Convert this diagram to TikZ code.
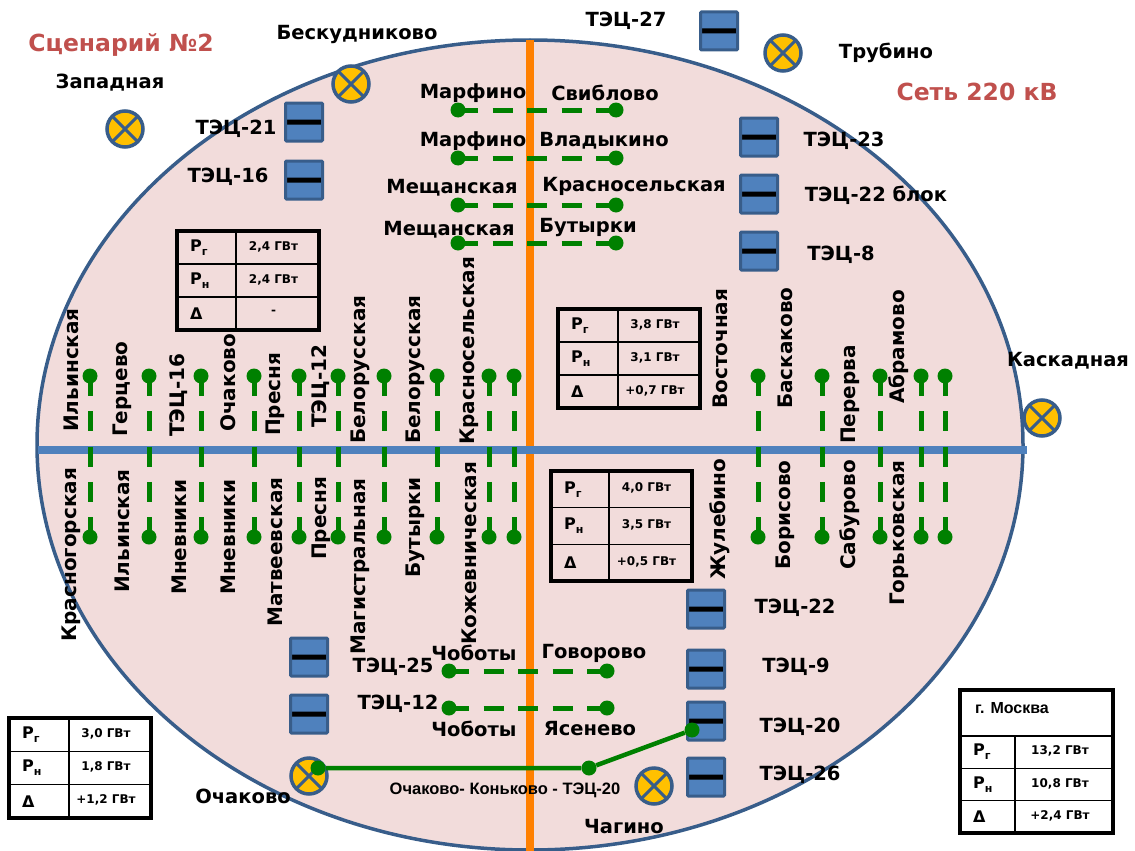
\documentclass[tikz,border=0pt]{standalone}
\usepackage{fontspec}
\setmainfont{DejaVu Sans}
\newfontfamily\tabfont{Liberation Sans}
\usetikzlibrary{positioning,calc}
\definecolor{zone}{HTML}{F2DCDB}
\definecolor{rim}{HTML}{385D8A}
\definecolor{bus}{HTML}{4F81BD}
\definecolor{mid}{HTML}{FF8000}
\definecolor{lampy}{HTML}{FFC000}
\definecolor{head}{HTML}{C0504D}
\definecolor{ln}{HTML}{008000}
\newcommand{\ptable}[9]{
  \draw[line width=1.5pt] (#2+#5,#3)--(#2+#5,#3+3*#6) (#2,#3+#6)--(#2+#4,#3+#6) (#2,#3+2*#6)--(#2+#4,#3+2*#6);
  \node[plbl] (#1a) at (#2+13,#3+.5*#6) {Р\lowsub{г}};
  \node[plbl] (#1b) at (#2+13,#3+1.5*#6) {Р\lowsub{н}};
  \node[plbl] (#1c) at (#2+13,#3+2.5*#6) {Δ};
  \node[vlbl] (#1x) at (#2+#5+.5*#4-.5*#5-4,#3+.5*#6-1) {#7};
  \node[vlbl] (#1y) at (#2+#5+.5*#4-.5*#5-4,#3+1.5*#6-1) {#8};
  \node[vlbl] (#1z) at (#2+#5+.5*#4-.5*#5-4,#3+2.5*#6-1) {#9};
}
\newcommand{\lowsub}[1]{\raisebox{-4pt}{\fontsize{11}{11}\selectfont #1}}

\begin{document}
\begin{tikzpicture}[x=1pt,y=-1pt,
  lbl/.style={font=\bfseries\fontsize{19.5}{21}\selectfont,inner sep=0pt},
  rlbl/.style={font=\bfseries\fontsize{20}{22}\selectfont,inner sep=0pt,rotate=90,anchor=west},
  headlbl/.style={font=\bfseries\fontsize{23.5}{25}\selectfont,text=head,inner sep=0pt},
  plbl/.style={font=\bfseries\fontsize{16}{18}\selectfont,anchor=west,inner sep=0pt},
  vlbl/.style={font=\bfseries\fontsize{12}{14}\selectfont,inner sep=0pt},
  frame/.style={line width=4pt},
  dot/.style={circle,fill=ln,inner sep=0pt,minimum size=15pt},
  feeder/.style={draw=ln,line width=5pt,dash pattern=on 20pt off 15.25pt},
  branch/.style={draw=ln,line width=5pt,dash pattern=on 20pt off 14.5pt},
  tpp/.style={draw=rim,fill=bus,line width=3pt,rounded corners=1pt,minimum width=37pt,minimum height=38pt,inner sep=0pt,
    path picture={\fill[black] ([yshift=2.5pt]path picture bounding box.west) rectangle ([yshift=-2.5pt]path picture bounding box.east);}},
  lamp/.style={circle,draw=rim,fill=lampy,line width=3.5pt,minimum size=36pt,inner sep=0pt,
    path picture={\draw[rim,line width=3pt] (path picture bounding box.north west)--(path picture bounding box.south east)
      (path picture bounding box.north east)--(path picture bounding box.south west);}}]
  \useasboundingbox (0,0) rectangle (1135,851);
  \draw[rim,fill=zone,line width=3.5pt] (530,445) ellipse [x radius=493,y radius=405];
  \draw[mid,line width=8pt] (530,40)--(530,851);
  \draw[bus,line width=8pt] (38,450)--(1027,450);

  \foreach \x [count=\i] in {90,149,201,254,299,338,384,437,489,514,758,822,880,921,945}{
    \node[dot] (t\i) at (\x,376) {};
    \node[dot] (b\i) at (\x,537) {};
    \draw[feeder] (t\i.center)--(b\i.center);
  }

  \foreach \y [count=\i] in {110,158,205,243}{
    \node[dot] (ml\i) at (458,\y) {};
    \node[dot] (mr\i) at (616,\y) {};
    \draw[branch] (ml\i.center)--(mr\i.center);
  }
  \foreach \y [count=\i] in {671,708}{
    \node[dot] (sl\i) at (449,\y) {};
    \node[dot] (sr\i) at (607,\y) {};
    \draw[branch] (sl\i.center)--(sr\i.center);
  }

  \foreach \x/\y [count=\i] in {304/122,304/180,719/31,759/137,759/194,759/251,706/609,706/669,706/721,706/777,309/657,309/714}
    \node[tpp] (g\i) at (\x,\y) {};
  \foreach \x/\y [count=\i] in {125/129,351/84,783/53,1042/418,309/776,654/786}
    \node[lamp] (s\i) at (\x,\y) {};

  \node[dot] (ok1) at (318,768) {};
  \node[dot] (ok2) at (589,768) {};
  \node[dot] (ok3) at (692,730) {};
  \draw[ln,line width=4.5pt] (ok1)--(ok2)--(ok3);

  \foreach \x/\y/\t [count=\i] in {357/34/Бескудниково,110/83/Западная,236/129/ТЭЦ-21,228/177/ТЭЦ-16,626/21/ТЭЦ-27,886/53/Трубино,
    473/93/Марфино,605/93/Свиблово,473/141/Марфино,604/141/Владыкино,452/188/Мещанская,634/186/Красносельская,449/230/Мещанская,588/227/Бутырки,
    844/141/ТЭЦ-23,876/195/ТЭЦ-22 блок,841/255/ТЭЦ-8,1068/361/Каскадная,795/608/ТЭЦ-22,796/667/ТЭЦ-9,800/727/ТЭЦ-20,800/775/ТЭЦ-26,
    474/653/Чоботы,594/653/Говорово,474/729/Чоботы,590/729/Ясенево,393/667/ТЭЦ-25,398/704/ТЭЦ-12,243/796/Очаково,624/827/Чагино}
    \node[lbl] (n\i) at (\x,\y) {\t};

  \foreach \x/\y/\t [count=\i] in {71/432/Ильинская,122/437/Герцево,179/437/ТЭЦ-16,228/432/Очаково,275/436/Пресня,321/428/ТЭЦ-12,
    360/444/Белорусская,415/444/Белорусская,469/445/Красносельская,720/409/Восточная,785/409/Баскаково,850/444/Перерва,899/404/Абрамово,
    71/642/Красногорская,122/593/Ильинская,179/595/Мневники,228/595/Мневники,275/627/Матвеевская,321/560/Пресня,360/655/Магистральная,
    415/578/Бутырки,469/645/Кожевническая,720/580/Жулебино,785/570/Борисово,850/570/Сабурово,899/606/Горьковская}
    \node[rlbl] (v\i) at (\x,\y) {\t};

  \node[headlbl] (sc) at (121,45) {Сценарий №2};
  \node[headlbl] (net) at (977,92) {Сеть 220 кВ};
  \node[font=\tabfont\bfseries\fontsize{16.5}{18}\selectfont,inner sep=0pt] (okl) at (505,790) {Очаково- Коньково - ТЭЦ-20};

  \ptable{ta}{177}{231}{142}{59}{33}{2,4 ГВт}{2,4 ГВт}{-}
  \draw[frame] (177,231) rectangle (319,330);
  \ptable{tb}{558}{309}{142}{60}{33}{3,8 ГВт}{3,1 ГВт}{+0,7 ГВт}
  \draw[frame] (558,309) rectangle (700,408);
  \ptable{tc}{551}{471}{141}{58}{36.7}{4,0 ГВт}{3,5 ГВт}{+0,5 ГВт}
  \draw[frame] (551,471) rectangle (692,581);
  \ptable{td}{9}{718}{142}{60}{33.3}{3,0 ГВт}{1,8 ГВт}{+1,2 ГВт}
  \draw[frame] (9,718) rectangle (151,818);
  \ptable{te}{960}{736}{153}{55}{32.3}{13,2 ГВт}{10,8 ГВт}{+2,4 ГВт}
  \draw[line width=1.5pt] (960,736)--(1113,736);
  \draw[frame] (960,690) rectangle (1113,833);
  \node[font=\tabfont\bfseries\fontsize{16}{18}\selectfont,inner sep=0pt] (tm) at (1012,708) {г. Москва};
\end{tikzpicture}
\end{document}
